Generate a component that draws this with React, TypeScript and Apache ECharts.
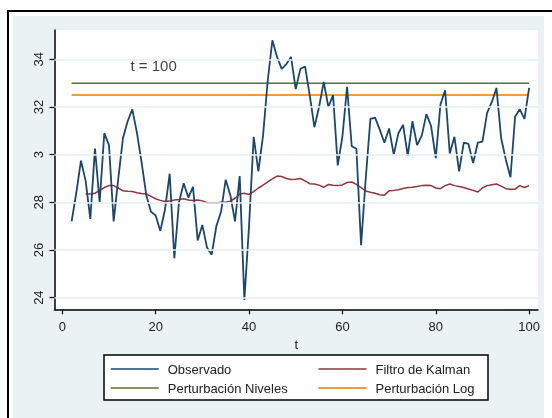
import React, { useEffect, useRef } from "react";
import * as echarts from "echarts";

const T_START = 2;
const observado = [
  27.2, 28.4, 29.75, 28.9, 27.3, 30.25, 28.0, 30.9, 30.4, 27.2,
  29.0, 30.7, 31.4, 31.9, 30.9, 29.65, 28.3, 27.6, 27.45, 26.8,
  27.7, 29.2, 25.65, 28.0, 28.8, 28.2, 28.65, 26.4, 27.05, 26.1,
  25.8, 27.0, 27.6, 28.95, 28.3, 27.2, 29.1, 23.9, 27.0, 30.75,
  29.3, 30.8, 33.1, 34.8, 34.1, 33.6, 33.8, 34.1, 32.75, 33.6,
  33.7, 32.5, 31.15, 32.0, 33.05, 32.0, 32.5, 29.55, 30.75, 32.85,
  30.35, 30.25, 26.2, 29.0, 31.5, 31.55, 31.05, 30.5, 31.1, 30.0,
  30.9, 31.25, 29.95, 31.4, 30.4, 30.8, 31.7, 31.2, 29.85, 32.1,
  32.7, 30.05, 30.75, 29.3, 30.5, 30.45, 29.65, 30.5, 30.55, 31.75,
  32.2, 32.8, 30.7, 29.8, 29.05, 31.6, 31.9, 31.5, 32.8,
];

const KALMAN_START = 5;
const kalman = [
  28.35, 28.35, 28.38, 28.5, 28.62, 28.7, 28.7, 28.6, 28.48, 28.46,
  28.45, 28.4, 28.37, 28.35, 28.25, 28.15, 28.08, 28.03, 28.05, 28.1,
  28.12, 28.15, 28.1, 28.08, 28.1, 28.06, 27.98, 27.98, 27.97, 28.0,
  28.0, 28.05, 28.17, 28.35, 28.38, 28.33, 28.45, 28.6, 28.72, 28.86,
  28.98, 29.1, 29.08, 29.0, 28.96, 28.97, 29.0, 28.9, 28.78, 28.77,
  28.72, 28.63, 28.75, 28.72, 28.7, 28.73, 28.83, 28.85, 28.75, 28.62,
  28.47, 28.42, 28.38, 28.32, 28.3, 28.48, 28.5, 28.53, 28.58, 28.62,
  28.63, 28.66, 28.7, 28.72, 28.7, 28.6, 28.57, 28.7, 28.77, 28.7,
  28.66, 28.62, 28.56, 28.5, 28.43, 28.6, 28.7, 28.74, 28.77, 28.68,
  28.57, 28.55, 28.55, 28.7, 28.62, 28.7,
];

const NIVELES = 33.0;
const LOG = 32.5;
const LEVEL_T = [2, 100];

const Y_TICKS = [24, 26, 28, 30, 32, 34];
const Y_TICK_LABELS = ["24", "26", "28", "3", "32", "34"];
const X_TICKS = [0, 20, 40, 60, 80, 100];

const ANNOT_T = 14.5;
const ANNOT_V = 33.76;
const ANNOT_TEXT = "t = 100";

const NAMES = ["Observado", "Filtro de Kalman", "Perturbación Niveles", "Perturbación Log"];
const COLORS = ["#1a476f", "#90353b", "#55752f", "#e37e00"];

const FONT = "'Liberation Sans', Arial, sans-serif";

export default function App() {
  const ref = useRef<HTMLDivElement>(null);
  useEffect(() => {
    if (!ref.current) return;
    const chart = echarts.init(ref.current, null, { renderer: "svg" });
    const obsData = observado.map((v, i) => [T_START + i, v]);
    const kalData = kalman.map((v, i) => [KALMAN_START + i, v]);
    chart.setOption({
      animation: false,
      textStyle: { fontFamily: FONT },
      graphic: [
        {
          type: "rect",
          z: -10,
          silent: true,
          shape: { x: 8, y: 11, width: 560, height: 420 },
          style: { fill: "#ffffff", stroke: "#000000", lineWidth: 2 },
        },
        {
          type: "rect",
          z: -9,
          silent: true,
          shape: { x: 13, y: 16, width: 531, height: 410 },
          style: { fill: "#eaf2f3" },
        },
        {
          type: "rect",
          z: 5,
          silent: true,
          shape: { x: 104, y: 355, width: 384, height: 45 },
          style: { fill: "#ffffff", stroke: "#000000", lineWidth: 1.5 },
        },
      ],
      grid: {
        left: 54.5,
        top: 30,
        right: 14,
        bottom: 108.7,
        show: true,
        backgroundColor: "#ffffff",
        borderWidth: 0,
      },
      legend: {
        data: NAMES,
        left: 110,
        top: 362,
        width: 420,
        padding: 0,
        itemGap: 5,
        itemWidth: 48,
        itemHeight: 14,
        z: 10,
        itemStyle: { opacity: 0 },
        lineStyle: { width: 1.5 },
        textStyle: {
          fontSize: 13,
          color: "#222",
          fontFamily: FONT,
          width: 145,
          lineHeight: 14,
          padding: [0, 0, 0, 4],
        },
      },
      xAxis: {
        type: "value",
        min: -1.67,
        max: 101.9,
        name: "t",
        nameLocation: "middle",
        nameGap: 28,
        nameTextStyle: { fontSize: 13, color: "#222", fontFamily: FONT },
        axisLine: { show: true, onZero: false, lineStyle: { color: "#000", width: 1.5 } },
        axisTick: { show: true, customValues: X_TICKS, length: 5, lineStyle: { color: "#000", width: 1.2 } },
        axisLabel: { customValues: X_TICKS, margin: 11, fontSize: 13, color: "#222", fontFamily: FONT },
        splitLine: { show: false },
      },
      yAxis: {
        type: "value",
        min: 23.51,
        max: 35.23,
        axisLine: { show: true, onZero: false, lineStyle: { color: "#000", width: 1.5 } },
        axisTick: { show: true, customValues: Y_TICKS, length: 5, lineStyle: { color: "#000", width: 1.2 } },
        axisLabel: {
          customValues: Y_TICKS,
          rotate: 90,
          margin: 10,
          fontSize: 13,
          color: "#222",
          fontFamily: FONT,
          formatter: (v: number) => {
            const i = Y_TICKS.findIndex((t) => Math.abs(t - v) < 1e-6);
            return i >= 0 ? Y_TICK_LABELS[i] : "";
          },
        },
        splitLine: { show: false },
      },
      series: [
        {
          type: "line",
          name: "_grid",
          data: [],
          z: 1,
          silent: true,
          markLine: {
            silent: true,
            symbol: "none",
            label: { show: false },
            lineStyle: { color: "#e6eff1", width: 1.5, type: "solid" },
            data: Y_TICKS.map((t) => ({ yAxis: t })),
          },
        },
        {
          type: "line",
          name: NAMES[2],
          data: LEVEL_T.map((t) => [t, NIVELES]),
          symbol: "none",
          lineStyle: { color: COLORS[2], width: 1.5 },
          itemStyle: { color: COLORS[2] },
          z: 2,
        },
        {
          type: "line",
          name: NAMES[3],
          data: LEVEL_T.map((t) => [t, LOG]),
          symbol: "none",
          lineStyle: { color: COLORS[3], width: 1.5 },
          itemStyle: { color: COLORS[3] },
          z: 2,
        },
        {
          type: "line",
          name: NAMES[1],
          data: kalData,
          symbol: "none",
          lineStyle: { color: COLORS[1], width: 1.5 },
          itemStyle: { color: COLORS[1] },
          z: 3,
        },
        {
          type: "line",
          name: NAMES[0],
          data: obsData,
          symbol: "none",
          lineStyle: { color: COLORS[0], width: 1.8 },
          itemStyle: { color: COLORS[0] },
          z: 4,
        },
        {
          type: "scatter",
          name: "_annot",
          data: [[ANNOT_T, ANNOT_V]],
          symbolSize: 1,
          itemStyle: { color: "transparent" },
          silent: true,
          label: {
            show: true,
            position: "right",
            distance: 0,
            formatter: ANNOT_TEXT,
            fontSize: 15,
            color: "#111",
            fontFamily: FONT,
          },
        },
      ],
    });
    return () => chart.dispose();
  }, []);
  return (
    <div
      ref={ref}
      style={{ position: "fixed", left: 0, top: 0, width: 552, height: 418 }}
    />
  );
}
